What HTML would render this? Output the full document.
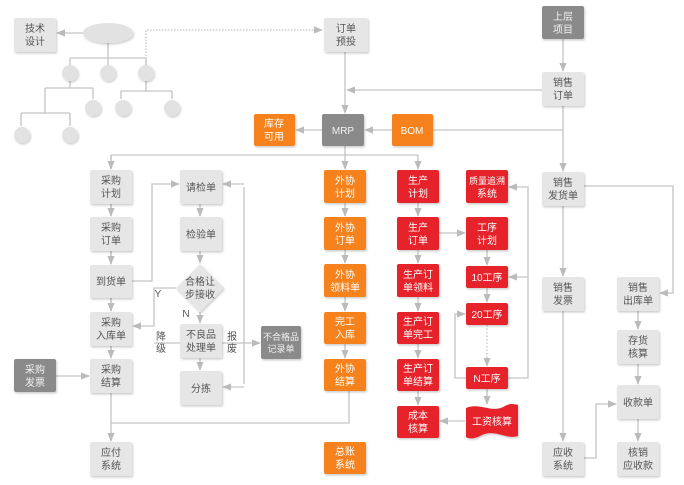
<!DOCTYPE html>
<html><head><meta charset="utf-8"><style>
html,body{margin:0;padding:0;background:#fff;width:684px;height:485px;overflow:hidden}
svg text{font-family:"Liberation Sans","Noto Sans CJK SC",sans-serif;font-size:10px;text-anchor:middle}
</style></head><body>
<svg width="684" height="485" viewBox="0 0 684 485" xmlns="http://www.w3.org/2000/svg">
<defs>
<marker id="a" viewBox="0 0 10 10" refX="9" refY="5" markerWidth="7" markerHeight="7" orient="auto"><path d="M0,1 L10,5 L0,9 z" fill="#bbb"/></marker>
<filter id="s" x="-20%" y="-20%" width="150%" height="150%"><feDropShadow dx="1" dy="1.5" stdDeviation="1" flood-color="#000" flood-opacity="0.2"/></filter>
</defs>
<g stroke="#c4c4c4" stroke-width="1.3" fill="none">
<!-- tree -->
<path d="M108,43 V58 M70,58 H146 M70,58 V65 M108,58 V65 M146,58 V65"/>
<path d="M70,81 V88 M45,88 H93 M93,88 V99 M45,88 V113 M21,113 H70 M21,113 V126 M70,113 V126"/>
<path d="M146,81 V91 M121,91 H172 M121,91 V99 M172,91 V99"/>
<path d="M146,65 V30 H322" stroke-dasharray="1.5,1.5" marker-end="url(#a)"/>
<path d="M83,33 H57" marker-end="url(#a)"/>
<!-- top -->
<path d="M345,51 V113" marker-end="url(#a)"/>
<path d="M542,90 H347" marker-end="url(#a)"/>
<path d="M563,39 V71" marker-end="url(#a)"/>
<path d="M563,106 V171" marker-end="url(#a)"/>
<path d="M563,130 H433"/>
<path d="M392,130 H365" marker-end="url(#a)"/>
<path d="M322,130 H296" marker-end="url(#a)"/>
<path d="M345,146 V169" marker-end="url(#a)"/>
<path d="M111,155 H418 M111,155 V169 M418,155 V169" marker-end="url(#a)"/>
<path d="M111,155 V169" marker-end="url(#a)"/>
<!-- col1 -->
<path d="M111,204 V216 M111,251 V264 M111,298 V311 M111,346 V358 M111,393 V441" marker-end="url(#a)"/>
<path d="M111,204 V216" marker-end="url(#a)"/><path d="M111,251 V264" marker-end="url(#a)"/><path d="M111,298 V311" marker-end="url(#a)"/><path d="M111,346 V358" marker-end="url(#a)"/>
<path d="M111,423 H349 V391"/>
<path d="M56,376 H89" marker-end="url(#a)"/>
<path d="M132,281 H152 V184 H179" marker-end="url(#a)"/>
<!-- col2 -->
<path d="M200,204 V216" marker-end="url(#a)"/>
<path d="M200,251 V263" marker-end="url(#a)"/>
<path d="M200,312 V323" marker-end="url(#a)"/>
<path d="M200,358 V370" marker-end="url(#a)"/>
<path d="M176,288 H154 V326 H133" marker-end="url(#a)"/>
<path d="M180,343 H154"/>
<path d="M222,343 H260" marker-end="url(#a)"/>
<path d="M244,187 V384"/>
<path d="M244,184 H223" marker-end="url(#a)"/>
<path d="M244,387 H223" marker-end="url(#a)"/>
<!-- orange col -->
<path d="M345,203 V216" marker-end="url(#a)"/><path d="M345,250 V263" marker-end="url(#a)"/><path d="M345,297 V311" marker-end="url(#a)"/><path d="M345,344 V358" marker-end="url(#a)"/>
<!-- red col -->
<path d="M418,203 V216" marker-end="url(#a)"/><path d="M418,250 V263" marker-end="url(#a)"/><path d="M418,297 V311" marker-end="url(#a)"/><path d="M418,344 V358" marker-end="url(#a)"/><path d="M418,391 V405" marker-end="url(#a)"/>
<path d="M439,233 H465" marker-end="url(#a)"/>
<path d="M487,250 V265" marker-end="url(#a)"/>
<path d="M487,288 V302" marker-end="url(#a)"/>
<path d="M487,325 V366" stroke-dasharray="1.5,2" marker-end="url(#a)"/>
<path d="M487,389 V404" marker-end="url(#a)"/>
<path d="M465,421 H440" marker-end="url(#a)"/>
<path d="M508,378 H528 V187 H509" marker-end="url(#a)"/>
<path d="M528,277 H509" marker-end="url(#a)"/>
<path d="M466,378 H455 V314 H465" marker-end="url(#a)"/>
<!-- sales -->
<path d="M563,206 V276" marker-end="url(#a)"/>
<path d="M563,311 V441" marker-end="url(#a)"/>
<path d="M584,186 H673 V293 H660" marker-end="url(#a)"/>
<path d="M638,311 V329" marker-end="url(#a)"/>
<path d="M638,364 V384" marker-end="url(#a)"/>
<path d="M638,419 V441" marker-end="url(#a)"/>
<path d="M584,458 H596 V404 H616" marker-end="url(#a)"/>
</g>
<!-- tree shapes -->
<g fill="#e2e2e2" filter="url(#s)">
<ellipse cx="108" cy="33" rx="25" ry="10"/>
<circle cx="70" cy="73" r="8"/><circle cx="108" cy="73" r="8"/><circle cx="146" cy="73" r="8"/>
<circle cx="93" cy="108" r="8"/><circle cx="123" cy="108" r="8"/><circle cx="172" cy="108" r="8"/>
<circle cx="22" cy="135" r="8"/><circle cx="70" cy="135" r="8"/>
</g>
<g filter="url(#s)">
<!-- light boxes -->
<g fill="#e6e6e6">
<rect x="14" y="18" width="42" height="34" rx="2"/>
<rect x="324" y="18" width="44" height="34" rx="2"/>
<rect x="542" y="72" width="42" height="34" rx="2"/>
<rect x="90" y="170" width="42" height="34" rx="2"/>
<rect x="90" y="217" width="42" height="34" rx="2"/>
<rect x="90" y="265" width="42" height="33" rx="2"/>
<rect x="90" y="312" width="42" height="34" rx="2"/>
<rect x="90" y="359" width="42" height="34" rx="2"/>
<rect x="90" y="442" width="42" height="34" rx="2"/>
<rect x="180" y="170" width="42" height="34" rx="2"/>
<rect x="180" y="217" width="42" height="34" rx="2"/>
<path d="M200,264 L224,288 L200,312 L176,288 Z"/>
<rect x="180" y="324" width="42" height="34" rx="2"/>
<rect x="180" y="371" width="42" height="34" rx="2"/>
<rect x="542" y="172" width="42" height="34" rx="2"/>
<rect x="542" y="277" width="42" height="34" rx="2"/>
<rect x="542" y="442" width="42" height="34" rx="2"/>
<rect x="617" y="277" width="42" height="34" rx="2"/>
<rect x="617" y="330" width="42" height="34" rx="2"/>
<rect x="617" y="385" width="42" height="34" rx="2"/>
<rect x="617" y="442" width="42" height="34" rx="2"/>
</g>
<g fill="#8a8a8a">
<rect x="542" y="6" width="42" height="33" rx="2"/>
<rect x="322" y="114" width="42" height="32" rx="2"/>
<rect x="14" y="359" width="42" height="33" rx="2"/>
<rect x="261" y="326" width="40" height="33" rx="2"/>
</g>
<g fill="#f5821f">
<rect x="254" y="114" width="41" height="32" rx="2"/>
<rect x="392" y="114" width="41" height="32" rx="2"/>
<rect x="324" y="170" width="42" height="33" rx="2"/>
<rect x="324" y="217" width="42" height="33" rx="2"/>
<rect x="324" y="264" width="42" height="33" rx="2"/>
<rect x="324" y="312" width="42" height="32" rx="2"/>
<rect x="324" y="359" width="42" height="32" rx="2"/>
<rect x="324" y="442" width="42" height="32" rx="2"/>
</g>
<g fill="#e62129">
<rect x="397" y="170" width="42" height="33" rx="2"/>
<rect x="397" y="217" width="42" height="33" rx="2"/>
<rect x="397" y="264" width="42" height="33" rx="2"/>
<rect x="397" y="312" width="42" height="32" rx="2"/>
<rect x="397" y="359" width="42" height="32" rx="2"/>
<rect x="397" y="406" width="42" height="32" rx="2"/>
<rect x="466" y="170" width="42" height="33" rx="2"/>
<rect x="466" y="217" width="42" height="33" rx="2"/>
<rect x="466" y="266" width="42" height="22" rx="2"/>
<rect x="466" y="303" width="42" height="22" rx="2"/>
<rect x="466" y="367" width="42" height="22" rx="2"/>
<path d="M466,408 C480,402 492,414 505,406 C510,403 514,404 518,405 L518,436 C505,440 495,428 480,436 C474,439 469,439 466,437 Z"/>
</g>
</g>
<g fill="#555">
<text x="35" y="32">技术</text><text x="35" y="45">设计</text>
<text x="346" y="32">订单</text><text x="346" y="45">预投</text>
<text x="563" y="86">销售</text><text x="563" y="99">订单</text>
<text x="111" y="184">采购</text><text x="111" y="197">计划</text>
<text x="111" y="231">采购</text><text x="111" y="244">订单</text>
<text x="111" y="285">到货单</text>
<text x="111" y="326">采购</text><text x="111" y="339">入库单</text>
<text x="111" y="373">采购</text><text x="111" y="386">结算</text>
<text x="111" y="456">应付</text><text x="111" y="469">系统</text>
<text x="201" y="191">请检单</text>
<text x="201" y="238">检验单</text>
<text x="200" y="285">合格让</text><text x="200" y="298">步接收</text>
<text x="201" y="338">不良品</text><text x="201" y="351">处理单</text>
<text x="201" y="392">分拣</text>
<text x="158" y="297">Y</text><text x="186" y="317">N</text>
<text x="161" y="340">降</text><text x="161" y="352">级</text>
<text x="232" y="340">报</text><text x="232" y="352">废</text>
<text x="563" y="186">销售</text><text x="563" y="199">发货单</text>
<text x="563" y="291">销售</text><text x="563" y="304">发票</text>
<text x="563" y="456">应收</text><text x="563" y="469">系统</text>
<text x="638" y="291">销售</text><text x="638" y="304">出库单</text>
<text x="638" y="344">存货</text><text x="638" y="357">核算</text>
<text x="638" y="406">收款单</text>
<text x="638" y="456">核销</text><text x="638" y="469">应收款</text>
</g>
<g fill="#f2f2f2">
<text x="563" y="20">上层</text><text x="563" y="33">项目</text>
<text x="343" y="134">MRP</text>
<text x="35" y="373">采购</text><text x="35" y="386">发票</text>
<text x="281" y="340" style="font-size:9px">不合格品</text><text x="281" y="352" style="font-size:9px">记录单</text>
</g>
<g fill="#fff">
<text x="274" y="127">库存</text><text x="274" y="140">可用</text>
<text x="412" y="134">BOM</text>
<text x="345" y="184">外协</text><text x="345" y="197">计划</text>
<text x="345" y="231">外协</text><text x="345" y="244">订单</text>
<text x="345" y="278">外协</text><text x="345" y="291">领料单</text>
<text x="345" y="325">完工</text><text x="345" y="338">入库</text>
<text x="345" y="372">外协</text><text x="345" y="385">结算</text>
<text x="345" y="455">总账</text><text x="345" y="468">系统</text>
<text x="418" y="184">生产</text><text x="418" y="197">计划</text>
<text x="418" y="231">生产</text><text x="418" y="244">订单</text>
<text x="418" y="278">生产订</text><text x="418" y="291">单领料</text>
<text x="418" y="325">生产订</text><text x="418" y="338">单完工</text>
<text x="418" y="372">生产订</text><text x="418" y="385">单结算</text>
<text x="418" y="419">成本</text><text x="418" y="432">核算</text>
<text x="487" y="184" style="font-size:9px">质量追溯</text><text x="487" y="197">系统</text>
<text x="487" y="231">工序</text><text x="487" y="244">计划</text>
<text x="487" y="281">10工序</text>
<text x="487" y="318">20工序</text>
<text x="487" y="382">N工序</text>
<text x="492" y="425">工资核算</text>
</g>
</svg>
</body></html>
